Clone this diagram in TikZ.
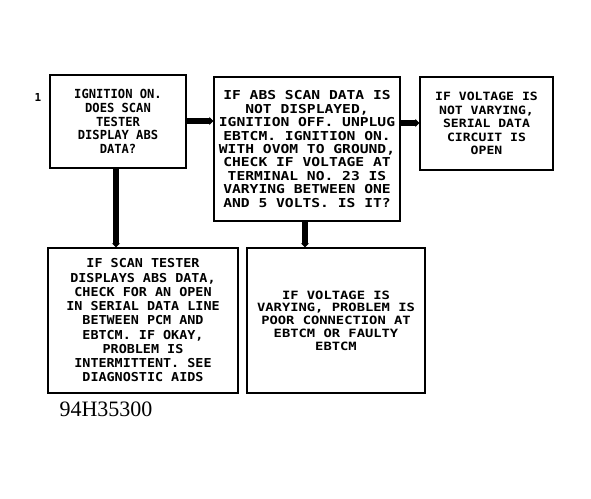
\documentclass[tikz,border=0pt]{standalone}
\usepackage{fontspec}
\setmainfont{Liberation Serif}
\newfontfamily\fonta[FakeStretch=0.97]{DejaVu Sans Mono}
\newfontfamily\fontb[FakeStretch=1.19]{DejaVu Sans Mono}
\newfontfamily\fontc[FakeStretch=1.15]{DejaVu Sans Mono}
\newfontfamily\fontd[FakeStretch=1.09]{DejaVu Sans Mono}
\newfontfamily\fonte[FakeStretch=1.21]{DejaVu Sans Mono}
\newfontfamily\fontn{DejaVu Sans Mono}
\usetikzlibrary{arrows.meta}
\begin{document}
\begin{tikzpicture}[x=1pt,y=-1pt,
  box/.style={draw, line width=1.3pt, inner sep=0pt, align=center},
  flow/.style={line width=5.5pt, -{Triangle[length=4pt,width=8pt]}}]
\useasboundingbox (0,0) rectangle (591,498);
\node[box, minimum width=136pt, minimum height=93pt,
  font=\fonta\bfseries\fontsize{12.5}{13.75}\selectfont] (b1) at (118,121.5)
  {IGNITION ON.\\DOES SCAN\\TESTER\\DISPLAY ABS\\DATA?};
\node[box, minimum width=186pt, minimum height=144pt,
  font=\fontb\bfseries\fontsize{12.3}{13.4}\selectfont] (b2) at (307,149)
  {IF ABS SCAN DATA IS\\NOT DISPLAYED,\\IGNITION OFF. UNPLUG\\EBTCM. IGNITION ON.\\WITH OVOM TO GROUND,\\CHECK IF VOLTAGE AT\\TERMINAL NO. 23 IS\\VARYING BETWEEN ONE\\AND 5 VOLTS. IS IT?};
\node[box, minimum width=133pt, minimum height=93pt,
  font=\fontc\bfseries\fontsize{11.4}{13.5}\selectfont] (b3) at (486.5,123.5)
  {IF VOLTAGE IS\\NOT VARYING,\\SERIAL DATA\\CIRCUIT IS\\OPEN};
\node[box, minimum width=190pt, minimum height=145pt,
  font=\fontd\bfseries\fontsize{12.3}{14.25}\selectfont] (b4) at (143,320.5)
  {IF SCAN TESTER\\DISPLAYS ABS DATA,\\CHECK FOR AN OPEN\\IN SERIAL DATA LINE\\BETWEEN PCM AND\\EBTCM. IF OKAY,\\PROBLEM IS\\INTERMITTENT. SEE\\DIAGNOSTIC AIDS};
\node[box, minimum width=178pt, minimum height=145pt,
  font=\fonte\bfseries\fontsize{11.4}{12.75}\selectfont] (b5) at (336,320.5)
  {IF VOLTAGE IS\\VARYING, PROBLEM IS\\POOR CONNECTION AT\\EBTCM OR FAULTY\\EBTCM};
\node[font=\fontn\bfseries\fontsize{11}{12}\selectfont] (n1) at (38,97) {1};
\node[font=\fontsize{22}{24}\selectfont] (fig) at (106,409) {94H35300};
\draw[flow] (b1.east |- 0,121) -- (b2.west |- 0,121);
\draw[flow] (b2.east |- 0,123) -- (b3.west |- 0,123);
\draw[flow] (b1.south -| 116,0) -- (b4.north -| 116,0);
\draw[flow] (b2.south -| 305,0) -- (b5.north -| 305,0);
\end{tikzpicture}
\end{document}
